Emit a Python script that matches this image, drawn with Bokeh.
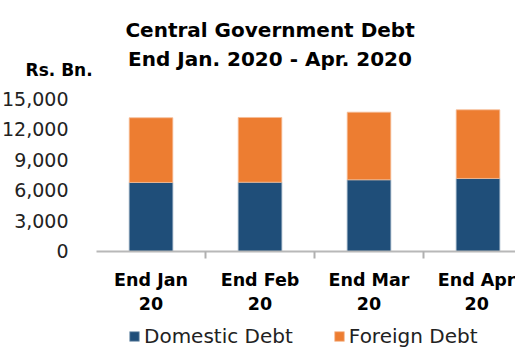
import numpy as np
from bokeh.plotting import figure
from bokeh.models import (ColumnDataSource, FixedTicker, NumeralTickFormatter, Range1d,
                          Label, Legend, LegendItem)
from bokeh.embed import file_html
from bokeh.resources import INLINE

categories = ["End Jan\n20", "End Feb\n20", "End Mar\n20", "End Apr\n20"]
domestic = [6770, 6790, 7030, 7160]
foreign = [6340, 6350, 6630, 6730]
y_ticks = [0, 3000, 6000, 9000, 12000, 15000]

FONT = "DejaVu Sans"

x = np.arange(len(categories)) + 0.5
dom = np.array(domestic)
tot = dom + np.array(foreign)
src = ColumnDataSource(dict(x=x, dom=dom, tot=tot, zero=np.zeros(len(x))))

# frame covers the whole canvas; axes are pinned at the data origin
p = figure(width=515, height=348, output_backend="svg", toolbar_location=None,
           x_range=Range1d(-0.881, 3.844), y_range=Range1d(-9510, 24608),
           min_border=0)
p.outline_line_color = None
p.grid.visible = False
p.background_fill_color = "white"
p.border_fill_color = "white"
p.title.visible = False

r1 = p.vbar(x="x", width=0.4, bottom="zero", top="dom", source=src,
            fill_color="#1F4E79", line_color="#8FA7BC", line_width=0.8)
r2 = p.vbar(x="x", width=0.4, bottom="dom", top="tot", source=src,
            fill_color="#ED7D31", line_color="#F6BE98", line_width=0.8)

# x axis
xa = p.xaxis[0]
xa.fixed_location = 0
xa.bounds = (0, 4)
xa.ticker = FixedTicker(ticks=list(x), minor_ticks=list(x[:-1] + 0.5))
xa.major_label_overrides = {float(v): c for v, c in zip(x, categories)}
xa.major_tick_out = 0
xa.major_tick_in = 0
xa.minor_tick_out = 7
xa.minor_tick_in = 0
xa.minor_tick_line_color = "#B0B0B0"
xa.minor_tick_line_width = 2
xa.axis_line_color = "#B8B8B8"
xa.axis_line_width = 2
xa.major_label_text_font = FONT
xa.major_label_text_font_style = "bold"
xa.major_label_text_font_size = "17.5px"
xa.major_label_text_color = "black"
xa.major_label_text_line_height = 1.2
xa.major_label_standoff = 12

# y axis
ya = p.yaxis[0]
ya.fixed_location = 0
ya.ticker = FixedTicker(ticks=y_ticks)
ya.formatter = NumeralTickFormatter(format="0,0")
ya.axis_line_color = None
ya.major_tick_line_color = None
ya.minor_tick_line_color = None
ya.major_label_text_font = FONT
ya.major_label_text_font_size = "19px"
ya.major_label_text_color = "#222222"
ya.major_label_standoff = 22

# title and unit label
p.add_layout(Label(x=1.592, y=20294,
                   text="Central Government Debt\nEnd Jan. 2020 - Apr. 2020",
                   text_font=FONT, text_font_style="bold", text_font_size="20px",
                   text_color="black", text_align="center", text_baseline="middle",
                   text_line_height=1.2))
p.add_layout(Label(x=-0.651, y=17843, text="Rs. Bn.", text_font=FONT,
                   text_font_style="bold", text_font_size="17px", text_color="black",
                   text_align="left", text_baseline="middle"))

legend = Legend(items=[LegendItem(label="Domestic Debt", renderers=[r1]),
                       LegendItem(label="Foreign Debt", renderers=[r2])],
                orientation="horizontal", location=(128, 0),
                label_text_font=FONT, label_text_font_size="20px",
                label_text_color="#222222", glyph_width=12, glyph_height=12,
                spacing=40, border_line_color=None, padding=0, margin=0,
                label_standoff=4, background_fill_alpha=0)
p.add_layout(legend, "center")

open("out.html", "w").write(file_html(p, INLINE))
